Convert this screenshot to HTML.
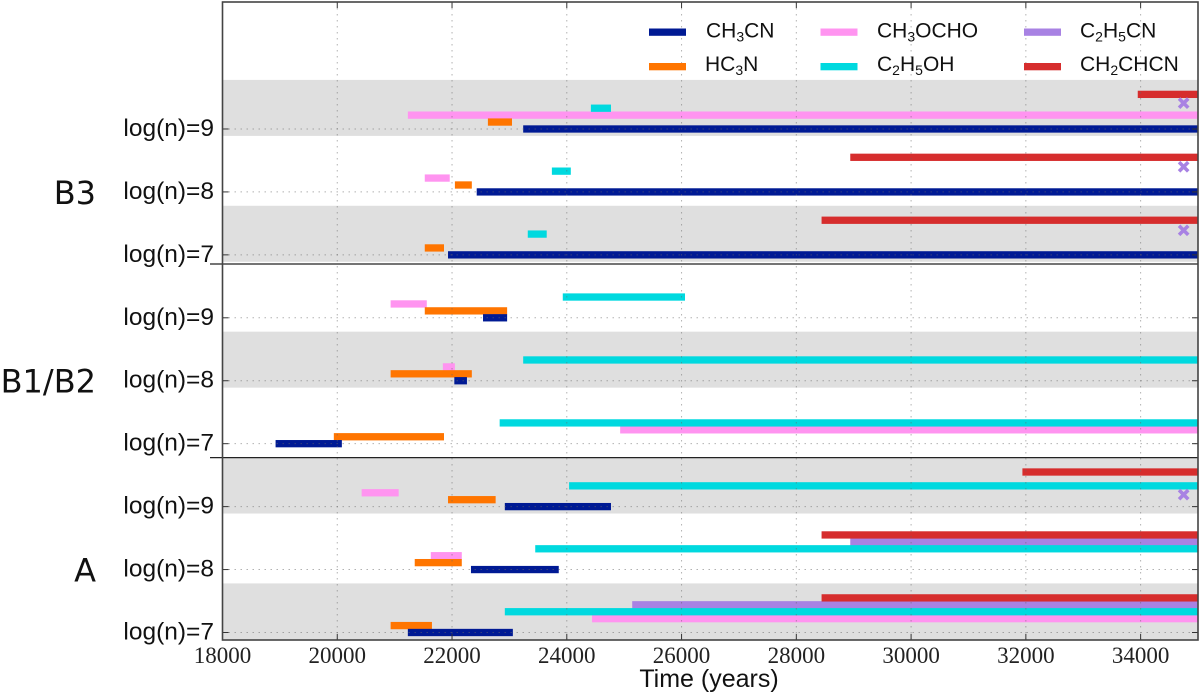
<!DOCTYPE html>
<html lang="en">
<head>
<meta charset="utf-8">
<title>Molecule formation timeline</title>
<style>
html,body{margin:0;padding:0;background:#fff;width:1200px;height:692px;overflow:hidden}
svg{display:block}
.tick{font-family:"Liberation Serif",serif;font-size:23px;fill:#222;text-anchor:middle}
.rowl{font-family:"Liberation Sans",sans-serif;font-size:24.5px;fill:#111;text-anchor:end}
.panel{font-family:"DejaVu Sans",sans-serif;font-size:32px;fill:#111;text-anchor:end}
.axt{font-family:"Liberation Sans",sans-serif;font-size:25px;fill:#111;text-anchor:middle}
.leg{font-family:"Liberation Sans",sans-serif;font-size:21px;fill:#111}
</style>
</head>
<body>
<svg id="chart" xmlns="http://www.w3.org/2000/svg" width="1200" height="692" viewBox="0 0 1200 692">
  <g id="bands"></g>
  <g id="bars"></g>
  <g id="markers"></g>
  <g id="grid"></g>
  <g id="axes"></g>
  <g>
    <rect x="649" y="28.5" width="37" height="7.3" fill="#001a94"/>
    <text class="leg" x="706" y="37.5">CH<tspan dy="4" font-size="14">3</tspan><tspan dy="-4">CN</tspan></text>
    <rect x="649" y="63" width="37" height="7.3" fill="#ff7500"/>
    <text class="leg" x="705" y="71">HC<tspan dy="4" font-size="14">3</tspan><tspan dy="-4">N</tspan></text>
    <rect x="820.5" y="28.5" width="37" height="7.3" fill="#ff94f0"/>
    <text class="leg" x="877" y="37.5">CH<tspan dy="4" font-size="14">3</tspan><tspan dy="-4">OCHO</tspan></text>
    <rect x="820.5" y="63" width="37" height="7.3" fill="#00d9df"/>
    <text class="leg" x="877" y="71">C<tspan dy="4" font-size="14">2</tspan><tspan dy="-4">H</tspan><tspan dy="4" font-size="14">5</tspan><tspan dy="-4">OH</tspan></text>
    <rect x="1024" y="28.5" width="37" height="7.3" fill="#a882e3"/>
    <text class="leg" x="1080" y="37.5">C<tspan dy="4" font-size="14">2</tspan><tspan dy="-4">H</tspan><tspan dy="4" font-size="14">5</tspan><tspan dy="-4">CN</tspan></text>
    <rect x="1024" y="63" width="37" height="7.3" fill="#d62d2d"/>
    <text class="leg" x="1080" y="71">CH<tspan dy="4" font-size="14">2</tspan><tspan dy="-4">CHCN</tspan></text>
  </g>
</svg>
<script>
// Row index: 0-2 = A log(n)=7..9, 3-5 = B1/B2 log(n)=7..9, 6-8 = B3 log(n)=7..9
const rowLabels = ["log(n)=7","log(n)=8","log(n)=9","log(n)=7","log(n)=8","log(n)=9","log(n)=7","log(n)=8","log(n)=9"];
const xTicks = [18000,20000,22000,24000,26000,28000,30000,32000,34000];
const panelNames = ["A","B1/B2","B3"];
const shadedRows = [0,2,4,6,8];
// Each entry: [row, start year, end year]
const ch3cnBars = [[0,21230,23060],[1,22330,23860],[2,22920,24770],[3,18925,20080],[4,22040,22260],[5,22540,22960],[6,21930,35000],[7,22430,35000],[8,23240,35000]];
const hc3nBars = [[0,20930,21650],[1,21350,22170],[2,21930,22760],[3,19940,21860],[4,20930,22345],[5,21525,22960],[6,21525,21860],[7,22050,22345],[8,22625,23045]];
const ch3ochoBars = [[0,24440,35000],[1,21630,22170],[2,20425,21070],[3,24930,35000],[4,21840,22050],[5,20930,21560],[7,21525,21960],[8,21230,35000]];
const c2h5ohBars = [[0,22920,35000],[1,23450,35000],[2,24040,35000],[3,22830,35000],[4,23240,35000],[5,23930,26060],[6,23320,23650],[7,23740,24070],[8,24420,24770]];
const c2h5cnBars = [[0,25140,35000],[1,28940,35000]];
const ch2chcnBars = [[0,28440,35000],[1,28440,35000],[2,31940,35000],[6,28440,35000],[7,28940,35000],[8,33950,35000]];
// Single-point detections: [row position, year]
const c2h5cnPoints = [[2.19,34750],[6.39,34750],[7.40,34750],[8.41,34750]];

const NS = "http://www.w3.org/2000/svg";
const xMin = 18000, xMax = 35000, left = 222.5, right = 1198, top_ = 2, bottom = 640;
function xScale(v){ return left + (v - xMin) * (right - left) / (xMax - xMin); }
function yScale(r){ return 632.5 - r * 62.94; }
function make(parent, tag, attrs, text){
  const e = document.createElementNS(NS, tag);
  for (const k in attrs) e.setAttribute(k, attrs[k]);
  if (text !== undefined) e.textContent = text;
  parent.appendChild(e);
  return e;
}
const bandsG = document.getElementById("bands"), barsG = document.getElementById("bars"),
      markersG = document.getElementById("markers"), gridG = document.getElementById("grid"),
      axesG = document.getElementById("axes");

shadedRows.forEach(function(r){
  const b = make(bandsG, "rect", {x:left, y:yScale(r + 0.78), width:right-left, height:yScale(r - 0.11)-yScale(r + 0.78), fill:"#dfdfdf"});
  
  
});

const laneStep = 0.11;
function drawBars(list, lane, color, name){
  list.forEach(function(d){
    const x0 = xScale(d[1]), x1 = xScale(Math.min(d[2], xMax));
    const yc = yScale(d[0] + lane * laneStep);
    const r = make(barsG, "rect", {x:x0, y:yc-3.65, width:x1-x0, height:7.3, fill:color});
    
    
  });
}
drawBars(ch3ochoBars, 2, "#ff94f0", "bar-ch3ocho");
drawBars(c2h5cnBars, 4, "#a882e3", "bar-c2h5cn");
drawBars(c2h5ohBars, 3, "#00d9df", "bar-c2h5oh");
drawBars(ch2chcnBars, 5, "#d62d2d", "bar-ch2chcn");
drawBars(hc3nBars, 1, "#ff7500", "bar-hc3n");
drawBars(ch3cnBars, 0, "#001a94", "bar-ch3cn");

c2h5cnPoints.forEach(function(p){
  const cx = xScale(p[1]), cy = yScale(p[0]), s = 4.6;
  const m = make(markersG, "path", {d:"M"+(cx-s)+" "+(cy-s)+"L"+(cx+s)+" "+(cy+s)+"M"+(cx-s)+" "+(cy+s)+"L"+(cx+s)+" "+(cy-s), stroke:"#a882e3", "stroke-width":3.6, fill:"none"});
  
  
});

xTicks.forEach(function(t){
  const x = xScale(t);
  const g = make(gridG, "line", {x1:x, x2:x, y1:top_, y2:bottom, stroke:"#666", "stroke-opacity":0.5, "stroke-width":1, "stroke-dasharray":"1.5 4.5"});
  
  
  if (t !== xMin) {
    const a = make(axesG, "line", {x1:x, x2:x, y1:bottom, y2:bottom-6, stroke:"#333", "stroke-width":1});
    
    
    const c = make(axesG, "line", {x1:x, x2:x, y1:top_, y2:top_+6, stroke:"#333", "stroke-width":1});
    
    
  }
  const l = make(axesG, "text", {x:x, y:663, class:"tick"}, String(t));
  
  
});

rowLabels.forEach(function(lab, r){
  const y = yScale(r);
  const g = make(gridG, "line", {x1:left, x2:right, y1:y, y2:y, stroke:"#666", "stroke-opacity":0.5, "stroke-width":1, "stroke-dasharray":"1.5 4.5"});
  
  
  const a = make(axesG, "line", {x1:left, x2:left+6, y1:y, y2:y, stroke:"#333", "stroke-width":1});
  
  
  const c = make(axesG, "line", {x1:right-6, x2:right, y1:y, y2:y, stroke:"#333", "stroke-width":1});
  
  
  const l = make(axesG, "text", {x:214, y:y+7, class:"rowl"}, lab);
  
  
});

panelNames.forEach(function(n, i){
  const y = yScale(i * 3 + 1) + 12;
  const l = make(axesG, "text", {x:96, y:y, class:"panel"}, n);
  
  
});

function drawSeparator(y){
  const s = make(axesG, "line", {x1:210, x2:right, y1:y, y2:y, stroke:"#222", "stroke-width":1.3});
  
  
}
drawSeparator(264);
drawSeparator(457.6);

const frame = make(axesG, "rect", {x:left, y:top_, width:right-left, height:bottom-top_, fill:"none", stroke:"#444", "stroke-width":1.6});



const xTitle = make(axesG, "text", {x:709, y:687, class:"axt"}, "Time (years)");


</script>
</body>
</html>
